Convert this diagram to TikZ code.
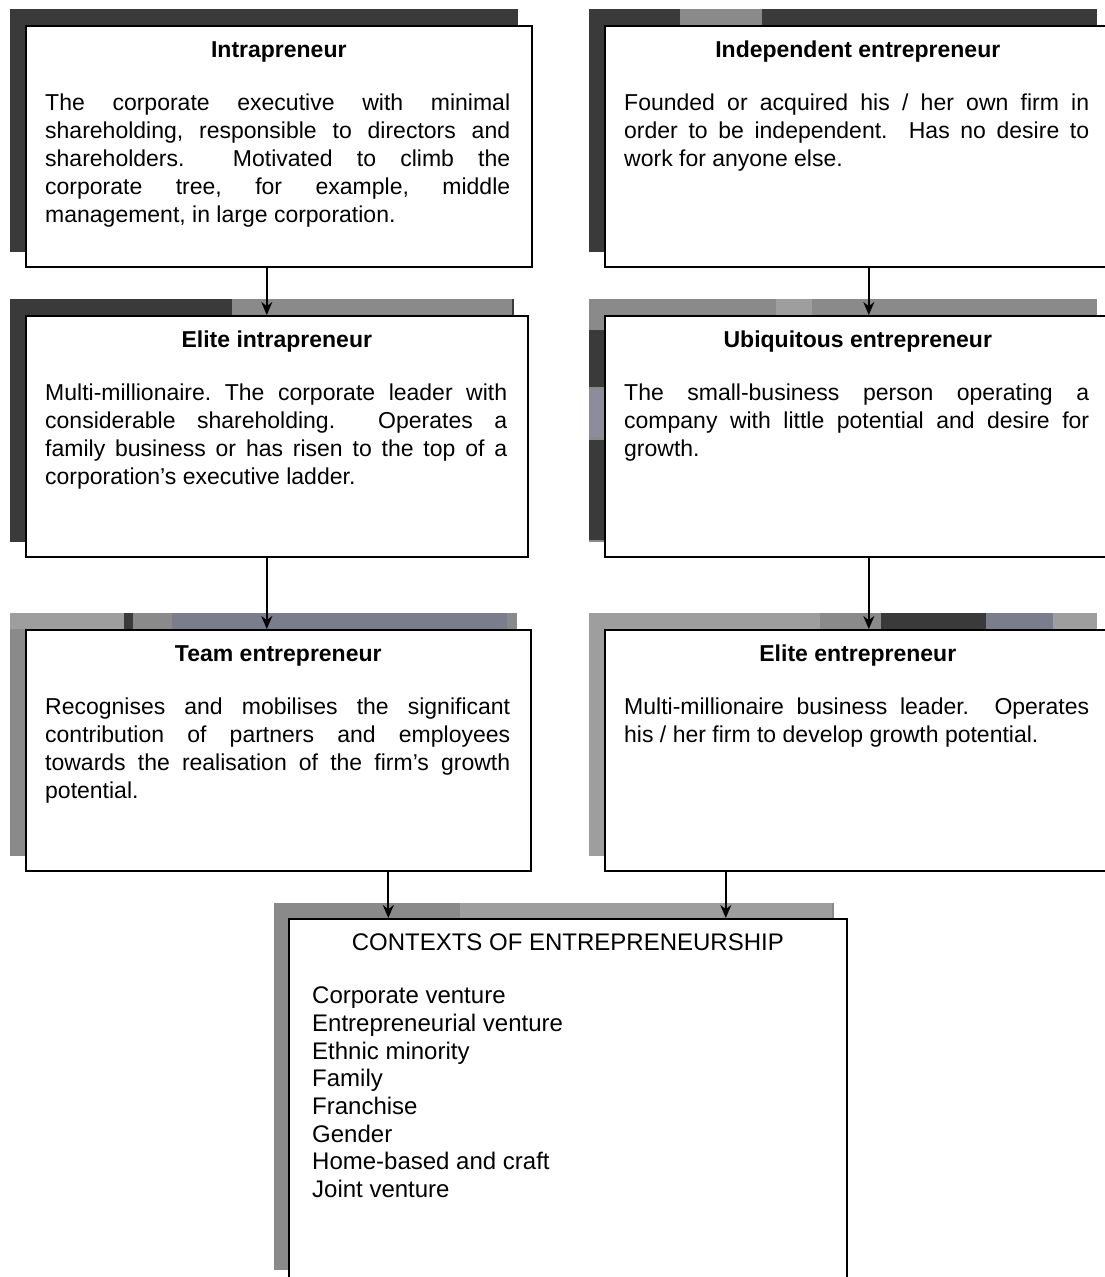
\documentclass[tikz,border=0pt]{standalone}
\usepackage{fontspec}
\setmainfont{Liberation Sans}
\usepackage{tikz}
\usetikzlibrary{arrows.meta, positioning, backgrounds, calc}
\definecolor{shdark}{RGB}{58,58,58}
\definecolor{shmid}{RGB}{138,138,138}
\definecolor{shlight}{RGB}{158,158,158}
\definecolor{shslate}{RGB}{122,126,140}
\definecolor{shlilac}{RGB}{140,140,156}
\tolerance=10000
\hbadness=10000
\frenchspacing
\tikzset{arrow/.style={line width=1.8pt, -{Stealth[length=13pt,width=11pt]}}}
\tikzset{card/.style={rectangle, draw=black, line width=1.6pt, fill=white, minimum width=506pt, minimum height=241pt, anchor=north west, inner sep=0pt}}
\tikzset{cardtitle/.style={font=\fontsize{23}{28}\selectfont\bfseries, anchor=base, inner sep=0pt}}
\tikzset{cardtext/.style={font=\fontsize{23}{28}\selectfont, text width=465pt, align=justify, anchor=north west, inner sep=0pt}}

\begin{document}
\begin{tikzpicture}[x=1pt, y=-1pt]
    \useasboundingbox (0,0) rectangle (1104,1277);

    % Intrapreneurs
    \node (intra) [card] at (25,25) {};
    \node (intratitle) [cardtitle] at ([shift={(0,32)}]intra.north) {Intrapreneur};
    \node (intratext) [cardtext] at ([shift={(20,66)}]intra.north west) {\strut The corporate executive with minimal\linebreak shareholding, responsible to directors and\linebreak shareholders.\ \ Motivated to climb the\linebreak corporate tree, for example, middle\linebreak management, in large corporation.};

    \node (eintra) [card, minimum width=502pt] at (25,315) {};
    \node (eintratitle) [cardtitle] at ([shift={(0,32)}]eintra.north) {Elite intrapreneur};
    \node (eintratext) [cardtext, text width=462pt] at ([shift={(20,66)}]eintra.north west) {\strut Multi-millionaire. The corporate leader with\linebreak considerable shareholding.\ \ Operates a\linebreak family business or has risen to the top of a\linebreak corporation's executive ladder.};

    \node (team) [card, minimum width=505pt] at (25,629) {};
    \node (teamtitle) [cardtitle] at ([shift={(0,32)}]team.north) {Team entrepreneur};
    \node (teamtext) [cardtext] at ([shift={(20,66)}]team.north west) {\strut Recognises and mobilises the significant\linebreak contribution of partners and employees\linebreak towards the realisation of the firm's growth\linebreak potential.};

    % Entrepreneurs
    \node (indep) [card] at (604,25) {};
    \node (indeptitle) [cardtitle] at ([shift={(0,32)}]indep.north) {Independent entrepreneur};
    \node (indeptext) [cardtext] at ([shift={(20,66)}]indep.north west) {\strut Founded or acquired his / her own firm in\linebreak order to be independent.\ \ Has no desire to\linebreak work for anyone else.};

    \node (ubiq) [card] at (604,315) {};
    \node (ubiqtitle) [cardtitle] at ([shift={(0,32)}]ubiq.north) {Ubiquitous entrepreneur};
    \node (ubiqtext) [cardtext] at ([shift={(20,66)}]ubiq.north west) {\strut The small-business person operating a\linebreak company with little potential and desire for\linebreak growth.};

    \node (elite) [card] at (604,629) {};
    \node (elitetitle) [cardtitle] at ([shift={(0,32)}]elite.north) {Elite entrepreneur};
    \node (elitetext) [cardtext] at ([shift={(20,66)}]elite.north west) {\strut Multi-millionaire business leader.\ \ Operates\linebreak his / her firm to develop growth potential.};

    % Contexts
    \node (ctx) [card, minimum width=558pt, minimum height=365pt] at (288,918) {};
    \node (ctxtitle) [cardtitle, font=\fontsize{24}{27.7}\selectfont] at ([shift={(0,32)}]ctx.north) {CONTEXTS OF ENTREPRENEURSHIP};
    \node (ctxlist) [anchor=north west, inner sep=0pt, align=left, font=\fontsize{24}{27.7}\selectfont] at ([shift={(24,66)}]ctx.north west) {\strut Corporate venture\\ Entrepreneurial venture\\ Ethnic minority\\ Family\\ Franchise\\ Gender\\ Home-based and craft\\ Joint venture};

    % Shadows
    \begin{scope}[on background layer]
        \fill[shdark] ([shift={(-15,-16)}]intra.north west) rectangle ([shift={(-15,-16)}]intra.south east);

        \fill[shdark] ([shift={(-15,-16)}]eintra.north west) rectangle ([shift={(-15,-16)}]eintra.south east);
        \fill[shmid] ([shift={(207,-16)}]eintra.north west) rectangle ([shift={(487,0)}]eintra.north west);

        \fill[shmid] ([shift={(-15,-16)}]team.north west) rectangle ([shift={(-15,-16)}]team.south east);
        \fill[shlight] ([shift={(-15,-16)}]team.north west) rectangle ([shift={(99,0)}]team.north west);
        \fill[shdark] ([shift={(99,-16)}]team.north west) rectangle ([shift={(108,0)}]team.north west);
        \fill[shslate] ([shift={(147,-16)}]team.north west) rectangle ([shift={(482,0)}]team.north west);

        \fill[shdark] ([shift={(-15,-16)}]indep.north west) rectangle ([shift={(-15,-16)}]indep.south east);
        \fill[shmid] ([shift={(76,-16)}]indep.north west) rectangle ([shift={(158,0)}]indep.north west);

        \fill[shmid] ([shift={(-15,-16)}]ubiq.north west) rectangle ([shift={(-15,-16)}]ubiq.south east);
        \fill[shlight] ([shift={(172,-16)}]ubiq.north west) rectangle ([shift={(208,0)}]ubiq.north west);
        \fill[shdark] ([shift={(-15,15)}]ubiq.north west) rectangle ([shift={(0,72)}]ubiq.north west);
        \fill[shlilac] ([shift={(-15,75)}]ubiq.north west) rectangle ([shift={(0,122)}]ubiq.north west);
        \fill[shdark] ([shift={(-15,125)}]ubiq.north west) rectangle ([shift={(0,225)}]ubiq.north west);

        \fill[shlight] ([shift={(-15,-16)}]elite.north west) rectangle ([shift={(-15,-16)}]elite.south east);
        \fill[shmid] ([shift={(216,-16)}]elite.north west) rectangle ([shift={(277,0)}]elite.north west);
        \fill[shdark] ([shift={(277,-16)}]elite.north west) rectangle ([shift={(382,0)}]elite.north west);
        \fill[shslate] ([shift={(382,-16)}]elite.north west) rectangle ([shift={(449,0)}]elite.north west);

        \fill[shmid] ([shift={(-14,-15)}]ctx.north west) rectangle ([shift={(-14,-15)}]ctx.south east);
        \fill[shlight] ([shift={(172,-15)}]ctx.north west) rectangle ([shift={(544,0)}]ctx.north west);
    \end{scope}

    % Arrows
    \draw [arrow] ([xshift=-12pt]intra.south) -- ([xshift=-12pt]intra.south |- eintra.north);
    \draw [arrow] ([xshift=-10pt]eintra.south) -- ([xshift=-10pt]eintra.south |- team.north);
    \draw [arrow] ([xshift=11pt]indep.south) -- ([xshift=11pt]indep.south |- ubiq.north);
    \draw [arrow] ([xshift=11pt]ubiq.south) -- ([xshift=11pt]ubiq.south |- elite.north);
    \draw [arrow] ([xshift=110pt]team.south) -- ([xshift=110pt]team.south |- ctx.north);
    \draw [arrow] ([xshift=-132pt]elite.south) -- ([xshift=-132pt]elite.south |- ctx.north);
\end{tikzpicture}
\end{document}
